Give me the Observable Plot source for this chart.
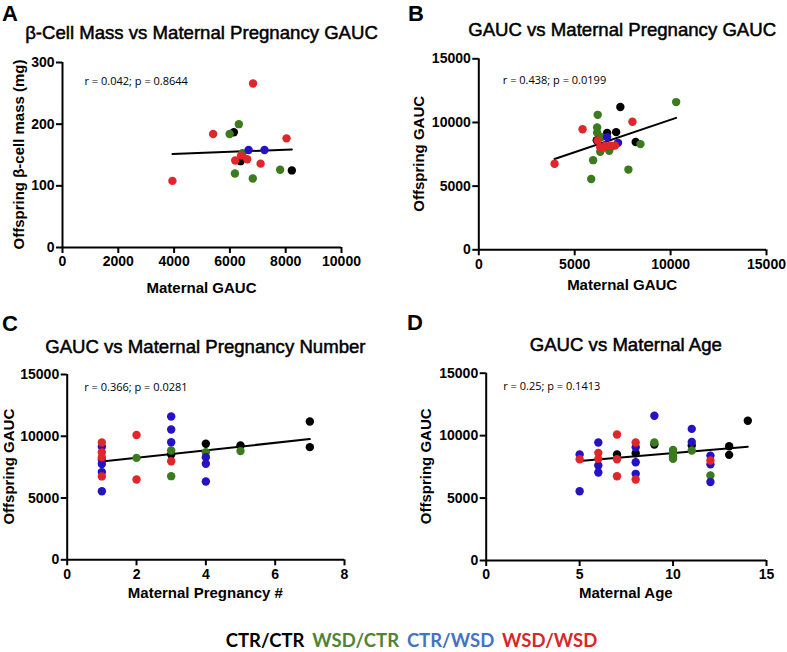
<!DOCTYPE html>
<html>
<head>
<meta charset="utf-8">
<script src="https://cdn.jsdelivr.net/npm/d3@7"></script>
<script src="https://cdn.jsdelivr.net/npm/@observablehq/plot@0.6"></script>
<style>
  html, body { margin: 0; padding: 0; background: #fff; }
  #root { position: relative; width: 787px; height: 652px; overflow: hidden; background: #fff; }
  .panel { position: absolute; }
  #overlay { position: absolute; left: 0; top: 0; pointer-events: none; }
</style>
</head>
<body>
<div id="root"></div>
<script>
// ---------- groups ----------
const groups = ["CTR/CTR", "WSD/CTR", "CTR/WSD", "WSD/WSD"];
const dotColors = ["#000000", "#3b7a1e", "#2412c4", "#e0262a"];
const legendColors = ["#000000", "#548235", "#4472c4", "#d9262a"];

// ---------- Panel A: beta-cell mass vs maternal pregnancy GAUC ----------
const aMaternalGAUC = [3940, 5400, 5990, 6140, 6320, 6830, 8030, 6670, 7240, 6450, 6400, 6190, 6380, 6620, 7100, 6180, 6820, 7800, 8220];
const aBetaCellMass = [108, 184, 184, 187, 200, 266, 177, 158, 158, 153, 149, 141, 140, 143, 136, 120, 112, 126, 125];
const aGroup = ["WSD/WSD", "WSD/WSD", "WSD/CTR", "CTR/CTR", "WSD/CTR", "WSD/WSD", "WSD/WSD", "CTR/WSD", "CTR/WSD", "WSD/CTR", "WSD/WSD", "WSD/WSD", "CTR/CTR", "WSD/WSD", "WSD/WSD", "WSD/CTR", "WSD/CTR", "WSD/CTR", "CTR/CTR"];

// ---------- Panel B: offspring GAUC vs maternal pregnancy GAUC ----------
const bMaternalGAUC = [3950, 5410, 5860, 5960, 6200, 6170, 6170, 7380, 8010, 10290, 7800, 8180, 8430, 6690, 7160, 6150, 6200, 6400, 6690, 7260, 6330, 6590, 6850, 7100, 6330, 6800, 6450, 6950];
const bOffspringGAUC = [6760, 9470, 5560, 7040, 10600, 9600, 9200, 11220, 10060, 11600, 6300, 8470, 8300, 9170, 9240, 8600, 8590, 8850, 8850, 8400, 8050, 8180, 8180, 8180, 7700, 7780, 8000, 8150];
const bGroup = ["WSD/WSD", "WSD/WSD", "WSD/CTR", "WSD/CTR", "WSD/CTR", "WSD/CTR", "WSD/CTR", "CTR/CTR", "WSD/WSD", "WSD/CTR", "WSD/CTR", "CTR/CTR", "WSD/CTR", "CTR/CTR", "CTR/CTR", "CTR/CTR", "WSD/WSD", "WSD/CTR", "CTR/WSD", "CTR/WSD", "WSD/WSD", "WSD/WSD", "WSD/WSD", "WSD/WSD", "WSD/CTR", "WSD/CTR", "WSD/WSD", "WSD/WSD"];

// ---------- Panel C: offspring GAUC vs maternal pregnancy number ----------
const cPregnancyNumber = [1, 1, 1, 1, 1, 1, 1, 1, 1, 2, 2, 2, 3, 3, 3, 3, 3, 3, 3, 4, 4, 4, 4, 4, 5, 5, 7, 7];
const cOffspringGAUC = [9500, 9150, 8700, 8300, 8100, 7750, 7100, 6750, 5550, 10100, 8250, 6500, 11600, 10550, 9520, 8850, 8530, 7980, 6770, 9390, 8710, 8300, 7770, 6340, 9250, 8800, 11200, 9120];
const cGroup = ["WSD/WSD", "CTR/WSD", "WSD/WSD", "WSD/WSD", "CTR/WSD", "CTR/WSD", "CTR/WSD", "WSD/WSD", "CTR/WSD", "WSD/WSD", "WSD/CTR", "WSD/WSD", "CTR/WSD", "CTR/WSD", "CTR/WSD", "WSD/CTR", "CTR/CTR", "WSD/WSD", "WSD/CTR", "CTR/CTR", "WSD/CTR", "CTR/WSD", "CTR/WSD", "CTR/WSD", "CTR/CTR", "WSD/CTR", "CTR/CTR", "CTR/CTR"];

// ---------- Panel D: offspring GAUC vs maternal age ----------
const dMaternalAge = [5, 5, 5, 6, 6, 6, 6, 6, 7, 7, 7, 7, 8, 8, 8, 8, 8, 8, 9, 9, 9, 10, 10, 10, 10, 11, 11, 11, 11, 12, 12, 12, 12, 12, 13, 13, 14];
const dOffspringGAUC = [8490, 8110, 5550, 9450, 8620, 8140, 7610, 7050, 10090, 8490, 8110, 6750, 9450, 9070, 8590, 7870, 6940, 6490, 11590, 9290, 9450, 8850, 8600, 8350, 8150, 10540, 9500, 9210, 8810, 8400, 8010, 7700, 6810, 6280, 9150, 8460, 11190];
const dGroup = ["CTR/WSD", "WSD/WSD", "CTR/WSD", "CTR/WSD", "WSD/WSD", "WSD/WSD", "CTR/WSD", "CTR/WSD", "WSD/WSD", "CTR/CTR", "WSD/WSD", "WSD/WSD", "WSD/WSD", "CTR/WSD", "CTR/CTR", "CTR/WSD", "CTR/WSD", "WSD/WSD", "CTR/WSD", "CTR/CTR", "WSD/CTR", "WSD/CTR", "WSD/CTR", "WSD/CTR", "WSD/CTR", "CTR/WSD", "CTR/WSD", "CTR/CTR", "WSD/CTR", "CTR/WSD", "WSD/WSD", "CTR/WSD", "WSD/CTR", "CTR/WSD", "CTR/CTR", "CTR/CTR", "CTR/CTR"];

// ---------- text ----------
const panelLetters = ["A", "B", "C", "D"];
const panelTitles = ["\u03B2-Cell Mass vs Maternal Pregnancy GAUC", "GAUC vs Maternal Pregnancy GAUC", "GAUC vs Maternal Pregnancy Number", "GAUC vs Maternal Age"];
const xLabels = ["Maternal GAUC", "Maternal GAUC", "Maternal Pregnancy #", "Maternal Age"];
const yLabels = ["Offspring \u03B2-cell mass (mg)", "Offspring GAUC", "Offspring GAUC", "Offspring GAUC"];
const statLabels = ["r = 0.042; p = 0.8644", "r = 0.438; p = 0.0199", "r = 0.366; p = 0.0281", "r = 0.25; p = 0.1413"];

// ---------- axis ticks ----------
const xTicksA = [0, 2000, 4000, 6000, 8000, 10000];
const yTicksA = [0, 100, 200, 300];
const xTicksB = [0, 5000, 10000, 15000];
const gaucTicks = [0, 5000, 10000, 15000];
const xTicksC = [0, 2, 4, 6, 8];
const xTicksD = [0, 5, 10, 15];

function rows(xs, ys, gs) {
  const r = xs.map((x, i) => ({x, y: ys[i], g: gs[i]}));
  r.sort((a, b) => groups.indexOf(a.g) - groups.indexOf(b.g));
  return r;
}

// layout of each panel (pixel geometry only)
const layout = [
  {left: 0,   top: 0,   width: 393, height: 300, mL: 62,   mR: 52, mT: 62,   mB: 53,   statDx: 22, statDy: 22},
  {left: 393, top: 0,   width: 394, height: 300, mL: 85.3, mR: 21, mT: 58.3, mB: 50.7, statDx: 24, statDy: 25},
  {left: 0,   top: 300, width: 393, height: 300, mL: 66.7, mR: 49, mT: 74,   mB: 40.7, statDx: 17, statDy: 16},
  {left: 393, top: 300, width: 394, height: 300, mL: 92.7, mR: 21, mT: 72.7, mB: 40,   statDx: 17, statDy: 17}
];

const panels = [
  {data: rows(aMaternalGAUC, aBetaCellMass, aGroup), xTicks: xTicksA, yTicks: yTicksA},
  {data: rows(bMaternalGAUC, bOffspringGAUC, bGroup), xTicks: xTicksB, yTicks: gaucTicks},
  {data: rows(cPregnancyNumber, cOffspringGAUC, cGroup), xTicks: xTicksC, yTicks: gaucTicks},
  {data: rows(dMaternalAge, dOffspringGAUC, dGroup), xTicks: xTicksD, yTicks: gaucTicks}
];

const root = document.getElementById("root");
const fmt = d3.format("d");

panels.forEach((p, i) => {
  const L = layout[i];
  const xt = p.xTicks, yt = p.yTicks;
  const chart = Plot.plot({
    width: L.width, height: L.height,
    marginLeft: L.mL, marginRight: L.mR, marginTop: L.mT, marginBottom: L.mB,
    x: {domain: [xt[0], xt[xt.length - 1]], label: null},
    y: {domain: [yt[0], yt[yt.length - 1]], label: null},
    color: {domain: groups, range: dotColors},
    style: {fontFamily: "'Liberation Sans', Arial, sans-serif", fontSize: "14px", fontWeight: "bold", color: "#000", background: "transparent", overflow: "visible"},
    marks: [
      Plot.axisX({ticks: xt, tickFormat: fmt, tickSize: 6, tickPadding: 3, strokeWidth: 2, label: null, fontWeight: "bold", fontSize: 14}),
      Plot.axisY({ticks: yt, tickFormat: fmt, tickSize: 6, tickPadding: 2, strokeWidth: 2, label: null, fontWeight: "bold", fontSize: 14}),
      Plot.ruleX([xt[0]], {stroke: "#000", strokeWidth: 2}),
      Plot.ruleY([yt[0]], {stroke: "#000", strokeWidth: 2}),
      Plot.linearRegressionY(p.data, {x: "x", y: "y", stroke: "#000", strokeWidth: 2, ci: 0}),
      Plot.dot(p.data, {x: "x", y: "y", fill: "g", r: 4.2}),
      Plot.text([statLabels[i]], {text: d => d, frameAnchor: "top-left", textAnchor: "start", lineAnchor: "bottom", dx: L.statDx, dy: L.statDy, fontFamily: "'Open Sans', sans-serif", fontWeight: "normal", fontSize: 11, fill: "#000"})
    ]
  });
  const div = document.createElement("div");
  div.className = "panel";
  div.style.left = L.left + "px";
  div.style.top = L.top + "px";
  div.appendChild(chart);
  root.appendChild(div);
});

// ---------- overlay: letters, titles, axis labels, legend ----------
const ns = "http://www.w3.org/2000/svg";
const ov = document.createElementNS(ns, "svg");
ov.setAttribute("id", "overlay");
ov.setAttribute("width", 787);
ov.setAttribute("height", 652);
root.appendChild(ov);

function txt(str, attrs) {
  const t = document.createElementNS(ns, "text");
  for (const k in attrs) t.setAttribute(k, attrs[k]);
  t.textContent = str;
  ov.appendChild(t);
  return t;
}

const letterPos = [[2, 20.5], [408, 20.5], [2, 330.5], [407, 329.5]];
const titleBase = [39.3, 36, 352.7, 350.7];
const xLabelBase = [292.7, 290, 597.5, 597.5];
const yLabelBase = [24, 423.5, 14, 430.7];

layout.forEach((L, i) => {
  const x0 = L.left + L.mL, x1 = L.left + L.width - L.mR;
  const y0 = L.top + L.mT, y1 = L.top + L.height - L.mB;
  const cx = (x0 + x1) / 2, cy = (y0 + y1) / 2;
  txt(panelLetters[i], {x: letterPos[i][0], y: letterPos[i][1], "font-family": "'Liberation Sans', Arial, sans-serif", "font-weight": "bold", "font-size": 22});
  txt(panelTitles[i], {x: cx, y: titleBase[i], "text-anchor": "middle", "font-family": "'Liberation Sans', Arial, sans-serif", "font-weight": "normal", "font-size": 18.6, stroke: "#000", "stroke-width": 0.5});
  txt(xLabels[i], {x: cx, y: xLabelBase[i], "text-anchor": "middle", "font-family": "'Liberation Sans', Arial, sans-serif", "font-weight": "bold", "font-size": 15});
  txt(yLabels[i], {x: 0, y: 0, "text-anchor": "middle", transform: `translate(${yLabelBase[i]},${cy}) rotate(-90)`, "font-family": "'Liberation Sans', Arial, sans-serif", "font-weight": "bold", "font-size": 15});
});

// legend
const leg = txt("", {x: 411.5, y: 646.5, "text-anchor": "middle", "font-family": "Lato, 'Open Sans', sans-serif", "font-weight": "bold", "font-size": 18.5});
groups.forEach((g, i) => {
  const ts = document.createElementNS(ns, "tspan");
  ts.setAttribute("fill", legendColors[i]);
  if (i > 0) ts.setAttribute("dx", 8);
  ts.textContent = g;
  leg.appendChild(ts);
});
</script>
</body>
</html>
